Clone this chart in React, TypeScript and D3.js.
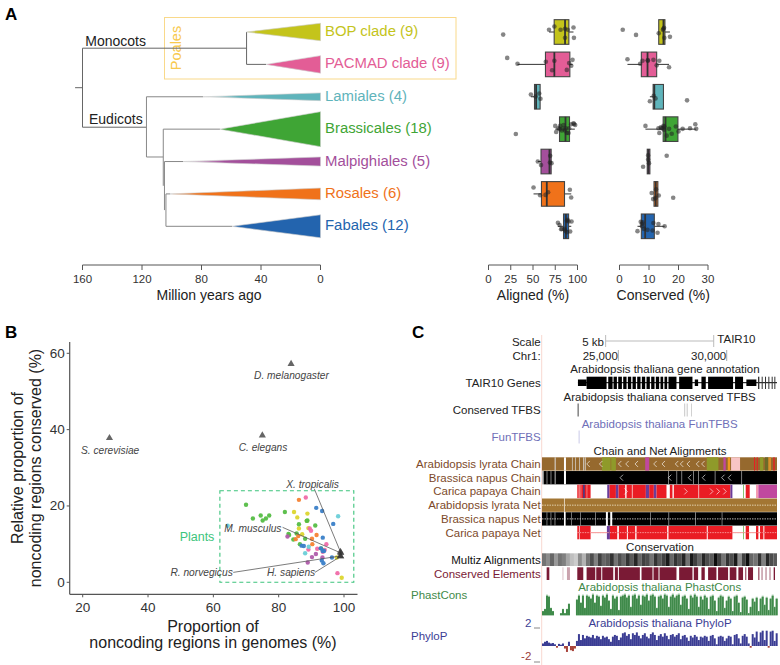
import React from 'react';
import * as d3 from 'd3';

const FONT = '"Liberation Sans", Arial, sans-serif';

// ---- panel A data ----
const cladeNames = ['BOP clade', 'PACMAD clade', 'Lamiales', 'Brassicales', 'Malpighiales', 'Rosales', 'Fabales'];
const cladeCounts = [9, 9, 4, 18, 5, 6, 12];
const cladeColors = ['#c4c41b', '#e35d96', '#5fb4bb', '#3fa535', '#a34f9b', '#f0721a', '#2364ae'];
// age (Mya) at which each collapsed clade starts, and half height of its wedge in row units
const cladeAges = [49.7, 36.6, 79, 67.6, 92.4, 101, 59.5];
const cladeSpreads = [0.27, 0.27, 0.12, 0.54, 0.14, 0.18, 0.355];
const fadedClades = ['Lamiales', 'Malpighiales'];

// [age from, row from, age to, row to]
const treeEdges = [
  [165, 1.72, 160, 1.72],
  [160, 0.5, 160, 2.94],
  [160, 0.5, 49.7, 0.5],
  [49.7, 0, 49.7, 1],
  [49.7, 1, 36.6, 1],
  [160, 2.94, 117, 2.94],
  [117, 2, 117, 3.86],
  [117, 2, 79, 2],
  [117, 3.86, 105.7, 3.86],
  [105.7, 3, 105.7, 4.75],
  [105.7, 3, 67.6, 3],
  [104.9, 4, 104.9, 5.5],
  [104.9, 4, 92.4, 4],
  [103.9, 5, 103.9, 6],
  [103.9, 5, 101, 5],
  [103.9, 6, 59.5, 6],
];

// boxes: [low whisker, q1, median, q3, high whisker]
const alignedBoxes = [
  [68, 73.8, 86, 90.3, 95.5],
  [32.6, 64, 74, 91.4, 94.4],
  [47.6, 51.7, 53.5, 58, 58.4],
  [75, 79.8, 86.5, 91, 97],
  [55.4, 59, 68.5, 70.4, 70.8],
  [50.6, 59.5, 65.5, 85.4, 93],
  [78, 84.3, 87, 90, 93],
];
const conservedBoxes = [
  [13.3, 13.3, 14.9, 15.4, 17.1],
  [2.7, 7.4, 9.5, 12.6, 16.8],
  [10.3, 11.4, 11.8, 14.9, 14.9],
  [8.8, 14.8, 15.6, 19.8, 26],
  [9.4, 9.4, 9.8, 10.3, 10.3],
  [11.7, 11.7, 12.3, 13, 13],
  [6.1, 7.4, 8.7, 11.8, 15.3],
];
// species points: [value, vertical jitter in row units]
const alignedPoints = [
  [[16.5, 0.08], [68, -0.07], [74, -0.17], [81, -0.07], [86, 0.18], [89, -0.07], [95.5, -0.14], [96, 0.18], [86, -0.1]],
  [[21, -0.2], [32.6, -0.02], [64.4, -0.08], [74, -0.11], [71.5, 0.18], [88, 0.17], [90.6, -0.04], [93, 0.04], [94.4, -0.14]],
  [[47.6, -0.07], [53, -0.01], [57, -0.1], [58.4, 0.06]],
  [[30.7, 0.15], [75, -0.1], [76, 0.09], [78.6, -0.03], [80.5, -0.1], [83.5, -0.02], [86, 0.04], [88, 0.12], [90.6, -0.03], [89.9, 0.12], [92.9, -0.15], [96.2, -0.16], [97.4, -0.13], [95.5, -0.18], [79.8, 0], [84.3, -0.13], [86.9, -0.03], [82.4, 0.04]],
  [[55.4, 0], [59, 0.11], [69.3, -0.18], [69, 0.03], [70.8, 0.05]],
  [[50.6, -0.2], [58, 0.04], [64, 0.03], [67, -0.05], [91.4, -0.13], [92.9, 0.11]],
  [[78, -0.11], [79.8, -0.04], [82.4, 0.08], [81.6, 0.09], [85.4, 0.08], [86.2, 0.13], [88, -0.17], [88.8, -0.2], [89.9, -0.15], [93.3, -0.15], [91.8, 0.16], [88, 0.18]],
];
const conservedPoints = [
  [[1.1, -0.07], [5.6, 0.09], [13.3, 0.04], [14.9, -0.1], [15.1, -0.13], [15.2, 0.18], [17.1, 0.15], [14.7, -0.07]],
  [[2.7, -0.16], [7, -0.02], [7.8, -0.11], [9.6, -0.13], [11.5, -0.14], [13.5, -0.11], [12.6, 0.03], [16.8, 0.09], [9.6, -0.11]],
  [[10.3, 0.14], [11.6, -0.03], [12.2, 0.05], [22.9, 0.11]],
  [[8.8, -0.1], [13.2, -0.03], [13.5, 0.12], [14, -0.06], [14.9, -0.1], [15.1, 0.02], [16, 0.2], [16.8, -0.01], [17.7, 0.14], [19.1, -0.08], [20, 0.07], [21.4, -0.01], [23.9, -0.03], [25.7, -0.15], [26, -0.01], [14.7, -0.03], [15.2, -0.08], [14.2, -0.03]],
  [[8, 0.16], [9.7, -0.19], [10, 0.05], [16, -0.18], [9.7, -0.06]],
  [[10.9, -0.03], [12.4, -0.14], [13.3, 0.05], [11.4, 0.16], [12.2, 0.13], [18.2, 0.12]],
  [[6.1, 0.15], [7.6, -0.07], [7.2, -0.14], [7.8, -0.12], [8.3, 0.08], [9.5, 0.11], [11.2, 0.13], [11.5, -0.1], [13.2, -0.07], [12.9, 0.2], [15.3, 0], [7.6, 0]],
];

// ---- panel B data ----
const scatterColors = ['#dcd62f', '#f06ba8', '#6ccfd8', '#55bd45', '#b05cab', '#f58233', '#3a7fc8'];
const scatterPoints = [
  [[84.7, 18.4], [85.7, 17], [88.8, 18], [88.6, 16.1], [86.2, 14.1], [89.1, 14.2], [87.2, 12.6], [99.3, 1.2], [97.8, 6.5]],
  [[88.3, 22.2], [98, 2.4], [89.5, 14.1], [89.9, 13.5], [94.6, 10], [91.8, 8.8], [89.1, 8.6], [93.5, 8], [94.1, 8.5]],
  [[98.2, 17.3], [64.4, 14.8], [89.2, 9.3], [88.1, 7.6]],
  [[70, 20.3], [72.1, 16.7], [74.5, 17.5], [75.1, 16.2], [76.1, 16.7], [77.1, 17.5], [81.9, 18.4], [86.2, 15.2], [88.8, 16.2], [88.6, 16.1], [91.2, 14.9], [83, 12.7], [83.2, 12.4], [84.5, 11.2], [88.1, 11.4], [86.5, 10], [85.5, 12.8], [93, 8.9]],
  [[82.7, 12], [90.2, 6.6], [91.4, 7.4], [93.4, 6.5], [88.9, 5.2]],
  [[86.2, 21.6], [91.6, 12.4], [90.2, 11.4], [85.2, 11.3], [90.3, 10], [86, 12.1]],
  [[91.5, 19.5], [93.3, 18.7], [96.7, 15.3], [93.5, 11.7], [87, 9.6], [87.7, 9.5], [92.9, 8.9], [93.5, 8.2], [93.9, 8.2], [96.3, 6.5], [93.2, 5.7], [93.7, 5]],
];
const otherSpecies = [
  { name: 'S. cerevisiae', x: 28.2, y: 37.8, labelX: 28.4, labelY: 34.6 },
  { name: 'C. elegans', x: 75, y: 38.5, labelX: 75.2, labelY: 35.3 },
  { name: 'D. melanogaster', x: 83.8, y: 57.2, labelX: 83.9, labelY: 54.1 },
  { name: 'X. tropicalis', x: 98.9, y: 8, labelX: 90.4, labelY: 25.7, fromX: 90.9, fromY: 24.5 },
  { name: 'M. musculus', x: 99, y: 7.7, labelX: 72.1, labelY: 14.1, fromX: 81.2, fromY: 14.4 },
  { name: 'R. norvegicus', x: 98.9, y: 6.9, labelX: 56.4, labelY: 2.6, fromX: 66.1, fromY: 2.6 },
  { name: 'H. sapiens', x: 99, y: 6.8, labelX: 83.8, labelY: 2.6, fromX: 91.1, fromY: 2.6 },
];

// ---- panel C data ----
// browser window, in bins of about 15 bp, as [start bin, end bin]
const WINDOW_BINS = 706;
const genomeStart = 21479;
const genomeEnd = 32320;
const genomeTicks = [25000, 30000];
const scaleBarRange = [24415, 29400];
const geneFull = [[134, 194], [199, 212], [215, 225], [229, 240], [244, 254], [258, 268], [272, 282], [286, 296], [300, 310], [314, 324], [328, 338], [342, 352], [356, 364], [368, 376], [380, 404], [412, 452], [479, 492], [499, 574], [580, 604]];
const geneHalf = [[108, 134], [459, 469], [614, 644]];
const geneThin = [[649, 653], [660, 663], [670, 673], [680, 683], [690, 693], [698, 701]];
const conservedTfbs = [[107, 110, '#444'], [428, 430, '#aaa'], [435, 437, '#aaa'], [448, 450, '#bbb']];
const funTfbs = [[110, 113, '#c9c9e8']];

const BROWN = '#96692e';
const RED = '#ea1c24';
const PURPLE = '#6a3d9a';
const OLIVE = '#8f9a2a';
const MAGENTA = '#c0489f';
const chainTracks = [
  {
    name: 'Arabidopsis lyrata Chain',
    segments: [[0, 706, BROWN], [38, 41, '#ddd'], [66, 72, '#fff'], [90, 92, '#ddd'], [100, 102, '#ddd'], [112, 114, '#ddd'], [124, 127, '#ddd'], [130, 132, '#ddd'], [180, 206, OLIVE], [208, 222, OLIVE], [310, 322, MAGENTA], [495, 530, OLIVE], [545, 552, MAGENTA], [558, 565, '#ee9a20'], [568, 595, '#f7c5c5'], [637, 640, RED], [645, 648, RED], [655, 665, OLIVE], [670, 680, '#6b6b2a'], [680, 688, '#d8902a'], [695, 699, RED]],
    chevrons: [139, 177, 234, 256, 284, 340, 365, 405, 420, 440, 468, 484],
    dir: -1,
  },
  {
    name: 'Brassica napus Chain',
    segments: [[0, 5, '#bbb'], [5, 706, '#000'], [14, 16, '#bbb'], [26, 28, '#bbb'], [38, 41, '#bbb'], [66, 72, '#fff'], [379, 381, '#bbb'], [404, 406, '#bbb'], [419, 421, '#bbb'], [454, 456, '#bbb'], [469, 471, '#bbb'], [519, 521, '#bbb'], [599, 601, '#bbb']],
    chevrons: [239, 384, 444, 486, 544, 564],
    dir: -1,
  },
  {
    name: 'Carica papaya Chain',
    segments: [[106, 146, RED], [110, 113, '#f8b0b0'], [116, 118, '#f8b0b0'], [124, 128, '#23409a'], [134, 136, '#f8b0b0'], [196, 203, PURPLE], [203, 222, RED], [222, 230, PURPLE], [230, 250, RED], [254, 270, RED], [272, 312, RED], [312, 322, PURPLE], [322, 336, RED], [336, 344, PURPLE], [344, 374, RED], [384, 392, RED], [396, 470, RED], [472, 566, RED], [566, 572, PURPLE], [604, 606, '#4aa52e'], [612, 624, RED], [643, 650, '#f49ab0'], [650, 706, MAGENTA]],
    chevrons: [252, 432, 509, 529, 549],
    dir: 1,
  },
  {
    name: 'Arabidopsis lyrata Net',
    segments: [[0, 66, '#a37633'], [68, 706, '#a37633']],
    chevrons: [],
    dir: 1,
    line: [0, 706, '#e8d8b8'],
  },
  {
    name: 'Brassica napus Net',
    segments: [[0, 66, '#000'], [71, 192, '#000'], [198, 205, '#000'], [211, 706, '#000'], [14, 15, '#bbb'], [26, 27, '#bbb'], [38, 40, '#bbb'], [88, 89, '#bbb'], [115, 116, '#bbb'], [160, 161, '#bbb'], [325, 326, '#bbb'], [380, 382, '#bbb'], [460, 462, '#bbb'], [540, 541, '#bbb']],
    chevrons: [],
    dir: 1,
    line: [0, 706, '#ccc'],
  },
  {
    name: 'Carica papaya Net',
    segments: [[106, 111, RED], [113, 146, RED], [195, 204, PURPLE], [204, 226, RED], [231, 255, RED], [258, 280, RED], [284, 376, RED], [380, 495, RED], [498, 572, RED], [604, 606, '#4aa52e'], [612, 622, RED], [643, 650, RED], [655, 665, RED], [668, 706, RED]],
    chevrons: [],
    dir: 1,
    line: [106, 706, '#f8a0a0'],
  },
];

// multiz darkness, one value per 12 bins
const multizDarkness = [0.55, 0.45, 0.6, 0.4, 0.55, 0.5, 0.35, 0.25, 0.2, 0.45, 0.3, 0.55, 0.7, 0.5, 0.75, 0.6, 0.65, 0.8, 0.55, 0.7, 0.6, 0.8, 0.65, 0.85, 0.6, 0.75, 0.7, 0.55, 0.8, 0.65, 0.75, 0.9, 0.6, 0.8, 0.7, 0.85, 0.55, 0.9, 0.75, 0.6, 0.85, 0.7, 0.65, 0.95, 0.75, 0.55, 0.8, 0.7, 0.9, 0.45, 0.75, 0.95, 0.6, 0.55, 0.8, 0.5, 0.85, 0.7, 0.65];
const conservedElements = [[14, 22, 1], [62, 64, 0.4], [75, 84, 0.4], [106, 124, 1], [134, 160, 1], [163, 178, 1], [181, 214, 1], [219, 228, 1], [231, 294, 1], [299, 332, 1], [335, 350, 1], [353, 404, 1], [412, 452, 1], [456, 469, 1], [479, 489, 1], [499, 524, 1], [529, 559, 1], [564, 584, 1], [590, 604, 1], [610, 614, 0.7], [619, 634, 1], [650, 653, 1], [660, 662, 1], [672, 674, 1], [684, 686, 1], [696, 700, 1]];
// one value per 6 bins
const phastCons = [
  0.2, 0.3, 0.95, 0.9, 0.35, 0.2, 0, 0, 0, 0.1,
  0.3, 0.1, 0.3, 0.55, 0, 0, 0, 0.75, 0.95, 0.6,
  0.95, 0.35, 0.95, 0.9, 0.8, 1, 0.6, 0.95, 0.9, 0.45,
  0.95, 0.85, 1, 0.7, 0.3, 0.95, 0.8, 0.9, 0.25, 0.9,
  0.95, 1, 0.85, 0.95, 0.4, 0.95, 1, 0.8, 0.95, 0.5,
  0.95, 0.9, 1, 0.7, 0.95, 1, 0.9, 0.35, 0.9, 0.95,
  0.8, 1, 0.95, 0.4, 0.9, 1, 0.85, 0.95, 1, 0.5,
  0.9, 0.95, 0.8, 0.3, 0.95, 0.85, 1, 0.9, 0.4, 0.9,
  0.75, 0.95, 0.85, 0.3, 0.9, 0.95, 0.7, 0.2, 0.85, 0.95,
  0.9, 0.35, 0.7, 0.9, 0.8, 0.2, 0.9, 0.95, 0.6, 0.15,
  0.85, 0.9, 0.75, 0.1, 0.4, 0.8, 0.65, 0.85, 0.2, 0.8,
  0.9, 0.5, 0.85, 0.25, 0.8, 0.95, 0.4, 0.8,
];
const phyloP = [
  0.3, 0.5, 0.6, 0.4, 0.3, 0.35, 0.2, -0.2, 0.25, 0.15,
  0.3, -0.3, -0.7, 0.5, -0.5, -0.6, -0.3, 0.6, 1.4, 0.7,
  1.3, 0.9, 1.2, 1.1, 1.0, 1.3, 0.9, 1.2, 1.1, 0.8,
  1.2, 1.0, 1.1, 0.8, 0.5, 1.1, 1.3, 1.2, 0.7, 1.0,
  1.5, 1.6, 1.2, 1.4, 0.8, 1.5, 1.3, 1.6, 1.2, 0.9,
  1.3, 1.5, 1.1, 0.9, 1.4, 1.6, 1.3, 0.7, 1.2, 1.4,
  1.1, 1.5, 1.2, 0.8, 1.3, 1.4, 1.1, 1.3, 1.5, 0.8,
  1.2, 1.3, 1.0, 0.6, 1.2, 1.0, 1.3, 1.1, 0.7, 1.1,
  1.0, 1.2, 1.1, 0.6, 1.2, 1.3, 0.9, 0.2, 1.1, 1.2,
  1.1, 0.6, 0.9, 1.2, 1.1, 0.2, 1.3, 1.4, 0.9, 0.3,
  1.2, 1.4, 1.1, 0.3, -0.2, 1.4, 1.0, 1.7, 0.5, 1.6,
  1.8, 0.7, 1.8, -0.2, 1.7, 1.8, 0.6, 1.5,
];

const sideTracks = [
  { label: 'Scale', y: 342, color: '#222' },
  { label: 'Chr1:', y: 356, color: '#222' },
  { label: 'TAIR10 Genes', y: 382.7, color: '#222' },
  { label: 'Conserved TFBS', y: 410, color: '#222' },
  { label: 'FunTFBS', y: 437.3, color: '#6f6fb8' },
  { label: 'Multiz Alignments', y: 560, color: '#111' },
  { label: 'Conserved Elements', y: 573.7, color: '#7a1a35' },
];
const trackTitles = [
  { label: 'Arabidopsis thaliana gene annotation', x: 665, y: 369.3, color: '#222' },
  { label: 'Arabidopsis thaliana conserved TFBS', x: 659.7, y: 396.7, color: '#222' },
  { label: 'Arabidopsis thaliana FunTFBS', x: 659.7, y: 424, color: '#6f6fb8' },
  { label: 'Chain and Net Alignments', x: 660, y: 450.7, color: '#222' },
  { label: 'Conservation', x: 660, y: 546.7, color: '#222' },
  { label: 'Arabidopsis thaliana PhastCons', x: 659.7, y: 587.3, color: '#3f8a4a' },
  { label: 'Arabidopsis thaliana PhyloP', x: 660, y: 623, color: '#3b3d94' },
];

// ---- scales ----
const AXIS_Y = 265;
const rowY = d3.scaleLinear().domain([0, 6]).range([32, 226.3]);
const xAge = d3.scaleLinear().domain([160, 0]).range([82.5, 320.5]);
const xAligned = d3.scaleLinear().domain([0, 100]).range([488.5, 577.5]);
const xConserved = d3.scaleLinear().domain([0, 30]).range([619.5, 708]);
const xProp = d3.scaleLinear().domain([20, 100]).range([82.7, 344]);
const yProp = d3.scaleLinear().domain([0, 60]).range([582.3, 353.3]);
const xBin = d3.scaleLinear().domain([0, WINDOW_BINS]).range([542, 777]);
const xGenome = d3.scaleLinear().domain([genomeStart, genomeEnd]).range([542, 777]);
const yPhast = d3.scaleLinear().domain([0, 1]).range([615.3, 593.5]);
const yPhylo = d3.scaleLinear().domain([-2, 2]).range([663, 629]);
const yChain = d3.scaleBand<string>().domain(chainTracks.map(t => t.name)).range([457.3, 539.3]).paddingInner(0.03);
const grayShade = d3.scaleLinear<string>().domain([0, 1]).range(['#ffffff', '#000000']);
const triangle = d3.symbol().type(d3.symbolTriangle);

const Txt = ({ x, y, size = 14, color = '#222', anchor = 'start', style, children, ...rest }: any) => (
  <text x={x} y={y} fontSize={size} fill={color} textAnchor={anchor} dominantBaseline="central" fontFamily={FONT} style={style} {...rest}>{children}</text>
);

const BottomAxis = ({ scale, ticks }: any) => (
  <g>
    <line x1={scale.range()[0]} x2={scale.range()[1]} y1={AXIS_Y} y2={AXIS_Y} stroke="#555" strokeWidth={1} />
    {ticks.map((t: number) => (
      <g key={t}>
        <line x1={scale(t)} x2={scale(t)} y1={AXIS_Y} y2={AXIS_Y + 5} stroke="#555" strokeWidth={1} />
        <Txt x={scale(t)} y={279} size={11.5} anchor="middle" color="#333">{t}</Txt>
      </g>
    ))}
  </g>
);

const BoxColumn = ({ scale, boxes, points }: any) => (
  <g>
    {boxes.map(([lo, q1, med, q3, hi]: number[], i: number) => (
      <g key={i}>
        <line x1={scale(lo)} x2={scale(hi)} y1={rowY(i)} y2={rowY(i)} stroke="#333" strokeWidth={1} />
        <rect x={scale(q1)} width={scale(q3) - scale(q1)} y={rowY(i - 0.38)} height={rowY(0.76) - rowY(0)} fill={cladeColors[i]} stroke="#444" strokeWidth={1.1} />
        <line x1={scale(med)} x2={scale(med)} y1={rowY(i - 0.38)} y2={rowY(i + 0.38)} stroke="#333" strokeWidth={1.8} />
        {points[i].map(([v, j]: number[], k: number) => (
          <circle key={k} cx={scale(v)} cy={rowY(i + j)} r={2.3} fill="#222" opacity={0.55} />
        ))}
      </g>
    ))}
  </g>
);

const PanelA = () => (
  <g>
    <defs>
      {cladeNames.map((n, i) => (
        <linearGradient key={n} id={`fade-${i}`} x1="0" x2="1" y1="0" y2="0">
          <stop offset="0" stopColor="#e8e8e8" />
          <stop offset={fadedClades.includes(n) ? 0.3 : 0.02} stopColor={cladeColors[i]} />
        </linearGradient>
      ))}
    </defs>
    <rect x={164.5} y={17.5} width={291.5} height={61.5} fill="none" stroke="#f9d98a" strokeWidth={1} />
    <Txt x={0} y={0} size={14.5} color="#f8c94e" anchor="middle" transform="translate(175.5 48) rotate(-90)">Poales</Txt>
    {treeEdges.map((e, i) => (
      <line key={i} x1={xAge(e[0])} x2={xAge(e[2])} y1={rowY(e[1])} y2={rowY(e[3])} stroke={i < 6 ? '#666' : '#888'} strokeWidth={1} />
    ))}
    {cladeNames.map((n, i) => {
      const tip = [xAge(cladeAges[i]), rowY(i)];
      const top = [xAge(0), rowY(i - cladeSpreads[i])];
      const bottom = [xAge(0), rowY(i + cladeSpreads[i])];
      return (
        <g key={n}>
          <polygon points={[tip, top, bottom].join(' ')} fill={`url(#fade-${i})`} stroke="#ccc" strokeWidth={0.6} />
          <Txt x={325} y={rowY(i) - 1} size={14.9} color={cladeColors[i]}>{`${n} (${cladeCounts[i]})`}</Txt>
        </g>
      );
    })}
    <Txt x={85.3} y={40.7}>Monocots</Txt>
    <Txt x={89} y={119.3}>Eudicots</Txt>

    <BottomAxis scale={xAge} ticks={[160, 120, 80, 40, 0]} />
    <Txt x={209} y={295} anchor="middle">Million years ago</Txt>

    <BoxColumn scale={xAligned} boxes={alignedBoxes} points={alignedPoints} />
    <BottomAxis scale={xAligned} ticks={[0, 25, 50, 75, 100]} />
    <Txt x={533} y={295} anchor="middle">Aligned (%)</Txt>

    <BoxColumn scale={xConserved} boxes={conservedBoxes} points={conservedPoints} />
    <BottomAxis scale={xConserved} ticks={[0, 10, 20, 30]} />
    <Txt x={663.3} y={295} anchor="middle">Conserved (%)</Txt>
  </g>
);

const PanelB = () => {
  const left = 69.7;
  const bottom = 594.3;
  return (
    <g>
      <line x1={left} x2={left} y1={342} y2={bottom} stroke="#555" strokeWidth={1.2} />
      <line x1={left} x2={357.5} y1={bottom} y2={bottom} stroke="#555" strokeWidth={1.2} />
      {[20, 40, 60, 80, 100].map(t => (
        <g key={t}>
          <line x1={xProp(t)} x2={xProp(t)} y1={bottom} y2={bottom + 3} stroke="#555" />
          <Txt x={xProp(t)} y={bottom + 13} size={13.5} anchor="middle" color="#333">{t}</Txt>
        </g>
      ))}
      {[0, 20, 40, 60].map(t => (
        <g key={t}>
          <line x1={left - 3} x2={left} y1={yProp(t)} y2={yProp(t)} stroke="#555" />
          <Txt x={left - 5} y={yProp(t)} size={13.5} anchor="end" color="#333">{t}</Txt>
        </g>
      ))}
      <Txt x={213} y={626} size={16} anchor="middle">Proportion of</Txt>
      <Txt x={213} y={642.7} size={16} anchor="middle">noncoding regions in genomes (%)</Txt>
      <Txt x={0} y={0} size={16} anchor="middle" transform="translate(17 468) rotate(-90)">Relative proportion of</Txt>
      <Txt x={0} y={0} size={16} anchor="middle" transform="translate(35 468) rotate(-90)">noncoding regions conserved (%)</Txt>

      <rect x={xProp(62)} y={yProp(24)} width={xProp(103) - xProp(62)} height={yProp(0) - yProp(24)} fill="none" stroke="#3cc47c" strokeWidth={1.1} strokeDasharray="4 3" />
      <Txt x={197} y={537} size={12.5} color="#3cc47c" anchor="middle">Plants</Txt>

      {scatterPoints.map((pts, i) => pts.map(([x, y], k) => (
        <circle key={`${i}-${k}`} cx={xProp(x)} cy={yProp(y)} r={2.2} fill={scatterColors[i]} opacity={0.95} />
      )))}
      {otherSpecies.map(s => (
        <g key={s.name}>
          {s.fromX !== undefined && (
            <line x1={xProp(s.fromX)} y1={yProp(s.fromY)} x2={xProp(s.x)} y2={yProp(s.y)} stroke="#555" strokeWidth={0.9} opacity={0.85} />
          )}
          <path d={triangle.size(22)()} transform={`translate(${xProp(s.x)} ${yProp(s.y)})`} fill="#333" opacity={0.75} />
          <Txt x={xProp(s.labelX)} y={yProp(s.labelY)} size={10.2} anchor="middle" color="#444" style={{ fontStyle: 'italic' }}>{s.name}</Txt>
        </g>
      ))}
    </g>
  );
};

const Block = ({ seg, y, h, fill, opacity }: any) => (
  <rect x={xBin(seg[0])} width={Math.max(0.6, xBin(seg[1]) - xBin(seg[0]))} y={y} height={h} fill={fill} opacity={opacity} />
);

const PanelC = () => {
  const labelX = 540.7;
  const barW = xBin(6) - xBin(0);
  return (
    <g>
      <line x1={541.7} x2={541.7} y1={335} y2={665} stroke="#f8d8d0" strokeWidth={1} />
      {sideTracks.map(t => (
        <Txt key={t.label} x={labelX} y={t.y} size={11.5} anchor="end" color={t.color}>{t.label}</Txt>
      ))}
      {trackTitles.map(t => (
        <Txt key={t.label} x={t.x} y={t.y} size={11.5} anchor="middle" color={t.color}>{t.label}</Txt>
      ))}

      {/* scale bar and ruler */}
      <Txt x={604} y={342} size={11.5} anchor="end">5 kb</Txt>
      <line x1={xGenome(scaleBarRange[0])} x2={xGenome(scaleBarRange[1])} y1={341} y2={341} stroke="#bbb" />
      {scaleBarRange.map(g => (
        <line key={g} x1={xGenome(g)} x2={xGenome(g)} y1={335} y2={347} stroke="#bbb" />
      ))}
      <Txt x={717.3} y={339} size={11.5}>TAIR10</Txt>
      {genomeTicks.map(g => (
        <g key={g}>
          <line x1={xGenome(g)} x2={xGenome(g)} y1={350} y2={361} stroke="#aaa" />
          <Txt x={xGenome(g) - 0.5} y={356} size={11.5} anchor="end">{d3.format(',')(g)}</Txt>
        </g>
      ))}

      {/* genes */}
      <line x1={xBin(108)} x2={xBin(706)} y1={382.7} y2={382.7} stroke="#000" strokeWidth={1} />
      {geneFull.map((s, i) => <Block key={i} seg={s} y={376.7} h={12.3} fill="#000" />)}
      {geneHalf.map((s, i) => <Block key={i} seg={s} y={379.5} h={6.5} fill="#000" />)}
      {geneThin.map((s, i) => <Block key={i} seg={s} y={376.7} h={12.3} fill="#333" />)}
      {conservedTfbs.map((s, i) => <Block key={i} seg={s} y={403.5} h={13} fill={s[2]} />)}
      {funTfbs.map((s, i) => <Block key={i} seg={s} y={430.5} h={13} fill={s[2]} />)}

      {/* chains and nets */}
      {chainTracks.map(t => {
        const y = yChain(t.name) as number;
        const h = yChain.bandwidth();
        const mid = y + h / 2;
        return (
          <g key={t.name}>
            <Txt x={labelX} y={mid} size={11.5} anchor="end" color="#7d4a2a">{t.name}</Txt>
            {t.line && t.name === 'Carica papaya Net' && (
              <line x1={xBin(t.line[0] as number)} x2={xBin(t.line[1] as number)} y1={mid} y2={mid} stroke="#f08080" strokeWidth={0.8} />
            )}
            {t.segments.map((s, i) => <Block key={i} seg={s} y={y} h={h} fill={s[2]} />)}
            {t.line && (
              <line x1={xBin(t.line[0] as number)} x2={xBin(t.line[1] as number)} y1={mid} y2={mid} stroke={t.line[2] as string} strokeWidth={0.9} strokeDasharray="1.5 1" />
            )}
            {t.chevrons.map(c => (
              <path key={c} d={`M${xBin(c) - t.dir * 1.5},${mid - 3}L${xBin(c) + t.dir * 1.5},${mid}L${xBin(c) - t.dir * 1.5},${mid + 3}`} fill="none" stroke="#fff" strokeWidth={0.7} opacity={0.9} />
            ))}
          </g>
        );
      })}

      {/* conservation */}
      {multizDarkness.map((d, i) => (
        <Block key={i} seg={[i * 12, Math.min(WINDOW_BINS, i * 12 + 12)]} y={553.3} h={12.7} fill={grayShade(d)} />
      ))}
      {conservedElements.map((s, i) => <Block key={i} seg={s} y={567.3} h={12.7} fill="#7a1a35" opacity={s[2]} />)}

      <Txt x={411} y={595.3} size={11.5} color="#3f8a4a">PhastCons</Txt>
      <Txt x={411} y={636} size={11.5} color="#3b3d94">PhyloP</Txt>
      {phastCons.map((v, i) => (
        <g key={i}>
          <rect x={xBin(i * 6)} width={barW} y={yPhast(v)} height={yPhast(0) - yPhast(v)} fill="#a9cdae" />
          <rect x={xBin(i * 6)} width={barW} y={yPhast(v * 0.94)} height={yPhast(0) - yPhast(v * 0.94)} fill="#3f8a4a" />
        </g>
      ))}

      <Txt x={531.3} y={623.3} size={11.5} anchor="end" color="#3b3d94">2</Txt>
      <Txt x={531.3} y={656.3} size={11.5} anchor="end" color="#9a3b3b">-2</Txt>
      <line x1={534} x2={540} y1={628} y2={628} stroke="#888" />
      <line x1={534} x2={540} y1={662} y2={662} stroke="#888" />
      {phyloP.map((v, i) => (
        <rect key={i} x={xBin(i * 6)} width={barW} y={Math.min(yPhylo(v), yPhylo(0))} height={Math.abs(yPhylo(v) - yPhylo(0))} fill={v >= 0 ? '#3b3d94' : '#a8433a'} />
      ))}
    </g>
  );
};

export default function App() {
  return (
    <svg width={780} height={665} style={{ position: 'absolute', left: 0, top: 0, background: '#fff' }}>
      <Txt x={5} y={14.5} size={17} color="#000" style={{ fontWeight: 'bold' }}>A</Txt>
      <Txt x={5} y={332.5} size={17} color="#000" style={{ fontWeight: 'bold' }}>B</Txt>
      <Txt x={412} y={332.5} size={17} color="#000" style={{ fontWeight: 'bold' }}>C</Txt>
      <PanelA />
      <PanelB />
      <PanelC />
    </svg>
  );
}
